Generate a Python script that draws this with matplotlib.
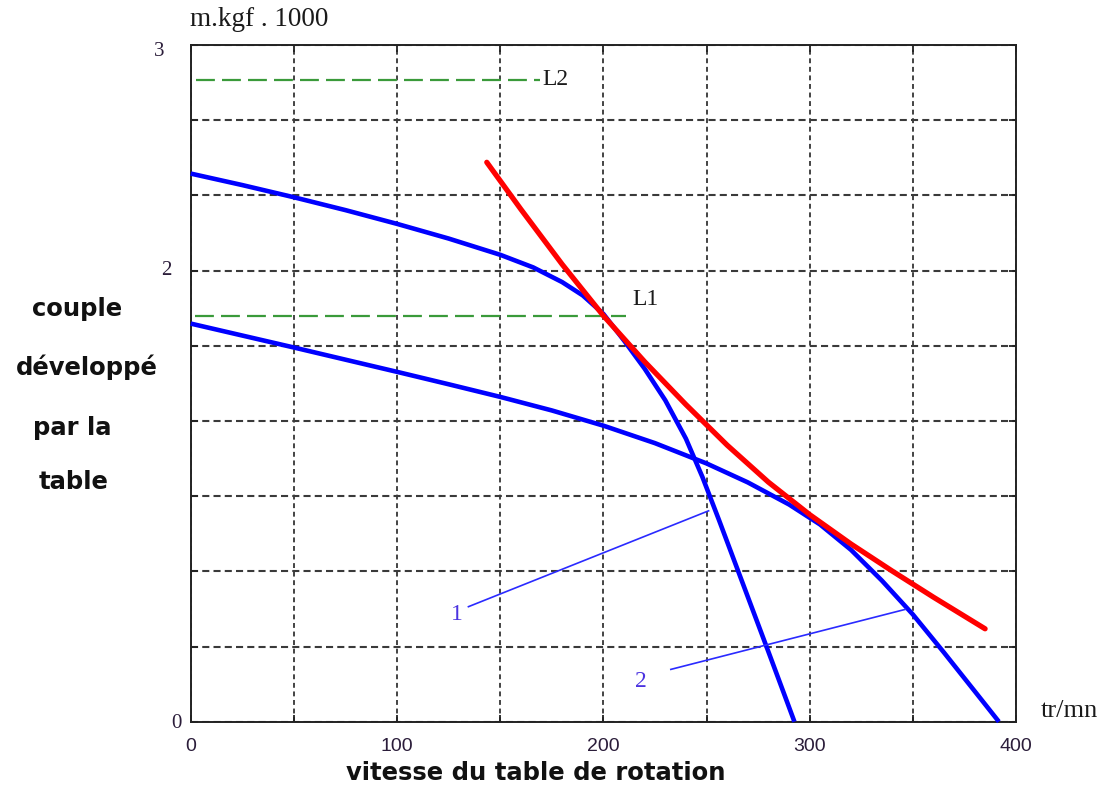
import matplotlib
matplotlib.use('Agg')
import matplotlib.pyplot as plt
from matplotlib.transforms import blended_transform_factory

# Table rotary torque vs. speed (torque in m.kgf x 1000, speed in tr/mn)
speed_1 = [0, 25, 50, 75, 100, 125, 150, 166, 180, 190, 200, 210, 220, 230,
           240, 248, 256, 264, 272, 280, 287, 292.6]
torque_1 = [2.43, 2.379, 2.325, 2.268, 2.207, 2.142, 2.07, 2.014, 1.949,
            1.89, 1.808, 1.69, 1.565, 1.425, 1.255, 1.085, 0.895, 0.70,
            0.505, 0.31, 0.138, 0.0]

speed_2 = [0, 25, 50, 75, 100, 125, 150, 175, 200, 225, 250, 270, 290, 305,
           320, 335, 350, 365, 380, 391.7]
torque_2 = [1.765, 1.712, 1.659, 1.605, 1.551, 1.496, 1.44, 1.38, 1.3125,
            1.235, 1.145, 1.061, 0.963, 0.8745, 0.762, 0.6255, 0.4755,
            0.3075, 0.135, 0.0]

# envelope (red)
speed_env = [143.5, 160, 180, 200, 220, 240, 260, 280, 300, 320, 340, 360,
             385]
torque_env = [2.48, 2.272, 2.028, 1.80, 1.596, 1.406, 1.226, 1.062, 0.918,
              0.788, 0.668, 0.552, 0.412]

# limit levels
L1_level, L1_span = 1.80, (2, 211)
L2_level, L2_span = 2.845, (2.4, 169.5)

# curve callouts: label position, line start, line end
callout_1 = ('1', (128.8, 0.476), (134.6, 0.51), (251.0, 0.935))
callout_2 = ('2', (218.4, 0.177), (232.7, 0.232), (346.3, 0.498))

x_ticks = [0, 50, 100, 150, 200, 250, 300, 350, 400]
x_labels = ['0', '', '100', '', '200', '', '300', '', '400']
y_ticks = [i / 3 for i in range(10)]
y_labels = {0: '0', 2: '2', 3: '3'}

BLUE = '#0000ff'
RED = '#ff0000'
GREEN = '#3a9a3a'
LABEL_CLR = '#2b1d3a'
CALLOUT_CLR = '#4b33e0'
SERIF = 'Liberation Serif'
SANS = 'Liberation Sans'

fig = plt.figure(figsize=(11.12, 7.88), dpi=100, facecolor='white')
ax = fig.add_axes([0.1715, 0.0841, 0.7422, 0.8588])
ax.set_xlim(0, 400)
ax.set_ylim(0, 3)

# grid
ax.set_xticks(x_ticks)
ax.set_xticklabels(x_labels, fontsize=14, family=SANS, color=LABEL_CLR)
ax.set_yticks(y_ticks)
ax.set_yticklabels([])
ax.xaxis.grid(True, linestyle=(0, (3.2, 2.4)), linewidth=1.1, color='#111111')
ax.yaxis.grid(True, linestyle=(0, (3.4, 2.0)), linewidth=1.5, color='#3a3a3a')
ax.tick_params(axis='both', direction='in', length=5, width=1.3,
               top=True, right=True, colors='#222222', labelcolor=LABEL_CLR)
ax.tick_params(axis='x', pad=12)
for sp in ax.spines.values():
    sp.set_linewidth(1.4)
    sp.set_color('#222222')
ax.set_axisbelow(True)

# y tick labels placed by hand (only 0, 2 and 3 are labelled)
tr = blended_transform_factory(ax.transAxes, ax.transData)
y_offsets = {0: (-0.017, -0.01), 2: (-0.030, 0.0), 3: (-0.038, -0.03)}
for val, txt in y_labels.items():
    dx, dy = y_offsets[val]
    ax.text(dx, val + dy, txt, transform=tr, ha='center', va='center',
            fontsize=15, family=SERIF, color=LABEL_CLR)

# limit lines
ax.plot(L2_span, [L2_level, L2_level], color=GREEN, lw=1.6,
        linestyle=(0, (8.5, 3.2)), zorder=3)
ax.text(L2_span[1] + 1, L2_level, 'L2', fontsize=17, family=SERIF,
        color='#1a1a1a', va='center', ha='left')
ax.plot(L1_span, [L1_level, L1_level], color=GREEN, lw=1.6,
        linestyle=(0, (8.5, 3.2)), zorder=3)
ax.text(L1_span[1] + 3, L1_level + 0.07, 'L1', fontsize=17, family=SERIF,
        color='#1a1a1a', va='center', ha='left')

# torque curves
ax.plot(speed_1, torque_1, color=BLUE, lw=3.3, solid_capstyle='butt',
        solid_joinstyle='round', zorder=4, clip_on=False)
ax.plot(speed_2, torque_2, color=BLUE, lw=3.3, solid_capstyle='butt',
        solid_joinstyle='round', zorder=4, clip_on=False)
ax.plot(speed_env, torque_env, color=RED, lw=3.8, solid_capstyle='round',
        solid_joinstyle='round', zorder=5)

# callouts
for label, (lx, ly), (sx, sy), (ex, ey) in (callout_1, callout_2):
    ax.plot([sx, ex], [sy, ey], color='#2a2aff', lw=1.2, zorder=4)
    ax.text(lx, ly, label, fontsize=17, family=SERIF, color=CALLOUT_CLR,
            ha='center', va='center')

# unit labels
fig.text(190 / 1112, 1 - 20 / 788, 'm.kgf . 1000', fontsize=19.5,
         family=SERIF, color='#1a1a1a', ha='left', va='center')
fig.text(1041 / 1112, 1 - 711 / 788, 'tr/mn', fontsize=19,
         family=SERIF, color='#1a1a1a', ha='left', va='center')

# axis titles
fig.text(536 / 1112, 1 - 773 / 788, 'vitesse du table de rotation',
         fontsize=17.5, fontweight='bold', family='DejaVu Sans',
         color='#111111', ha='center', va='center')
for txt, (cx, cy) in [('couple', (77, 309)), ('développé', (87, 367)),
                      ('par la', (72, 428)), ('table', (74, 482))]:
    fig.text(cx / 1112, 1 - cy / 788, txt, fontsize=17.5, fontweight='bold',
             family='DejaVu Sans', color='#111111', ha='center',
             va='center')

fig.savefig('out.png', dpi=100, facecolor='white')
